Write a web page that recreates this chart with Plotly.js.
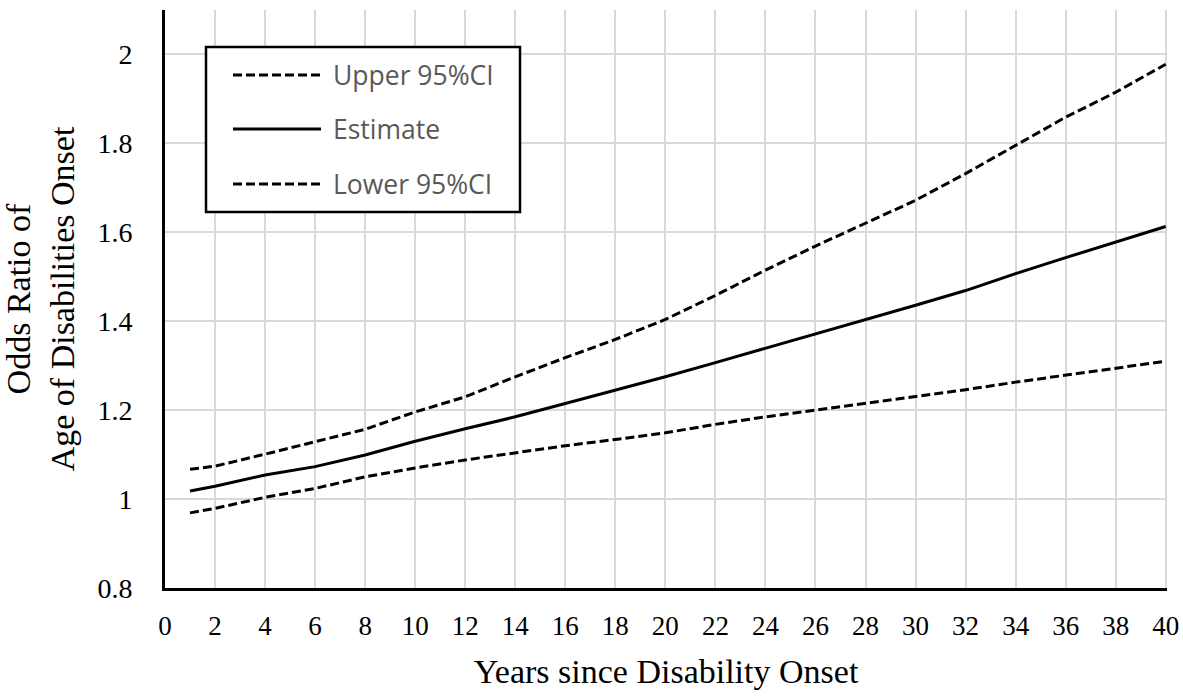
<!DOCTYPE html>
<html>
<head>
<meta charset="utf-8">
<script src="https://cdn.plot.ly/plotly-3.0.1.min.js"></script>
<style>html,body{margin:0;padding:0;background:#fff;}#chart{width:1183px;height:698px;}</style>
</head>
<body>
<div id="chart"></div>
<script>
// Data
const years = [1, 2, 4, 6, 8, 10, 12, 14, 16, 18, 20, 22, 24, 26, 28, 30, 32, 34, 36, 38, 40];
const upper95 = [1.067, 1.074, 1.101, 1.129, 1.157, 1.196, 1.230, 1.275, 1.318, 1.359, 1.404, 1.458, 1.515, 1.569, 1.620, 1.672, 1.732, 1.796, 1.859, 1.915, 1.978];
const estimate = [1.018, 1.029, 1.054, 1.073, 1.099, 1.130, 1.158, 1.185, 1.215, 1.245, 1.275, 1.307, 1.339, 1.372, 1.404, 1.436, 1.469, 1.507, 1.543, 1.578, 1.613];
const lower95 = [0.969, 0.979, 1.004, 1.024, 1.050, 1.070, 1.088, 1.104, 1.120, 1.134, 1.149, 1.168, 1.185, 1.200, 1.215, 1.231, 1.246, 1.263, 1.279, 1.294, 1.310];
const seriesNames = ["Upper 95%CI", "Estimate", "Lower 95%CI"];
const xTitle = "Years since Disability Onset";
const yTitle = "Odds Ratio of<br>Age of Disabilities Onset";

const W = 1183, H = 698;
const M = {l: 165, r: 16, t: 10, b: 110};
const PW = W - M.l - M.r, PH = H - M.t - M.b;
const px = v => (v - M.l) / PW;        // pixel -> paper x
const py = v => (H - M.b - v) / PH;    // pixel -> paper y

const dashStyle = "9px,4px";
const serif = "'Liberation Serif', 'Times New Roman', serif";

const traces = [
  {x: years, y: upper95, name: seriesNames[0], mode: "lines", line: {color: "#000", width: 3, dash: dashStyle}},
  {x: years, y: estimate, name: seriesNames[1], mode: "lines", line: {color: "#000", width: 3}},
  {x: years, y: lower95, name: seriesNames[2], mode: "lines", line: {color: "#000", width: 3, dash: dashStyle}}
];

// Legend box drawn as shapes + text
const legRows = [75, 129, 184];
const shapes = [{
  type: "rect", xref: "paper", yref: "paper",
  x0: px(206), x1: px(520), y0: py(212), y1: py(47),
  line: {color: "#000", width: 2.5}, fillcolor: "#fff", layer: "above"
}];
const annotations = [];
seriesNames.forEach((n, i) => {
  shapes.push({
    type: "line", xref: "paper", yref: "paper",
    x0: px(233), x1: px(321), y0: py(legRows[i]), y1: py(legRows[i]),
    line: {color: "#000", width: 3, dash: i === 1 ? "solid" : dashStyle}, layer: "above"
  });
  annotations.push({
    xref: "paper", yref: "paper", x: px(331), y: py(legRows[i]),
    xanchor: "left", yanchor: "middle", showarrow: false, text: n,
    font: {family: "'Open Sans', sans-serif", size: 26.5, color: "#595959"}
  });
});

const layout = {
  width: W, height: H,
  margin: M,
  paper_bgcolor: "#fff", plot_bgcolor: "#fff",
  showlegend: false,
  font: {family: serif, color: "#000"},
  xaxis: {
    range: [0, 40.05], tick0: 0, dtick: 2,
    showgrid: true, gridcolor: "#d9d9d9", gridwidth: 2,
    showline: true, linecolor: "#000", linewidth: 3,
    zeroline: false, ticks: "", ticklabelstandoff: 12,
    tickfont: {family: serif, size: 27, color: "#000"},
    title: {text: xTitle, font: {family: serif, size: 34, color: "#000"}, standoff: 19},
    automargin: false
  },
  yaxis: {
    range: [0.8, 2.1], tick0: 0.8, dtick: 0.2,
    showgrid: true, gridcolor: "#d9d9d9", gridwidth: 2,
    showline: true, linecolor: "#000", linewidth: 3,
    zeroline: false, ticks: "", ticklabelstandoff: 24,
    tickfont: {family: serif, size: 28, color: "#000"},
    title: {text: yTitle, font: {family: serif, size: 34, color: "#000"}, standoff: 20},
    automargin: false
  },
  shapes: shapes,
  annotations: annotations
};

Plotly.newPlot("chart", traces, layout, {displayModeBar: false, staticPlot: true});
</script>
</body>
</html>
